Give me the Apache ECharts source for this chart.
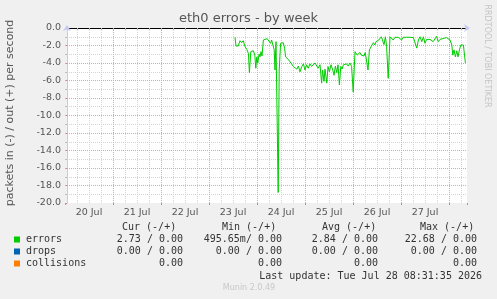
<!DOCTYPE html>
<html><head><meta charset="utf-8">
<script src="https://cdn.jsdelivr.net/npm/echarts@6/dist/echarts.min.js"></script>
<style>html,body{margin:0;padding:0;background:#f0f0f0;overflow:hidden}#c{width:497px;height:299px}</style>
</head><body><div id="c"></div>
<script>
// ---- data ----
const title = 'eth0 errors - by week';
const yAxisTitle = 'packets in (-) / out (+) per second';
const sideText = 'RRDTOOL / TOBI OETIKER';
const dayLabels = ['20 Jul', '21 Jul', '22 Jul', '23 Jul', '24 Jul', '25 Jul', '26 Jul', '27 Jul'];
const yMajorTicks = [-2, -4, -6, -8, -10, -12, -14, -16, -18];
// hours since 20 Jul 00:00
const hours = [85.0,85.5,86.6,87.5,88.3,89.1,90.0,90.9,91.7,92.2,92.9,93.5,94.2,94.9,95.4,95.9,96.4,97.0,97.5,98.0,98.5,99.2,100.0,101.1,102.1,102.8,103.3,104.1,104.6,105.0,105.5,106.1,106.6,107.1,107.8,108.5,109.1,109.8,110.3,110.9,111.7,112.5,113.4,114.2,115.0,115.9,116.7,117.5,118.4,119.2,120.0,120.8,121.6,122.5,123.3,124.1,125.0,125.8,126.6,127.5,128.3,128.8,129.5,130.0,130.9,131.5,132.2,133.0,133.9,134.5,135.2,135.9,136.5,137.2,137.9,138.5,139.2,140.0,140.8,141.6,142.5,143.3,144.1,145.0,145.5,146.1,146.8,147.5,148.1,148.8,149.5,150.1,150.9,151.5,152.2,152.9,153.5,154.2,154.9,155.5,156.2,156.9,157.5,158.2,158.9,159.5,160.2,160.8,161.6,162.5,163.3,164.1,165.0,165.8,166.6,167.5,168.3,169.1,170.0,170.9,171.7,172.5,173.4,174.2,175.0,175.9,176.7,177.5,178.4,179.2,180.0,180.8,181.6,182.5,183.3,184.1,185.0,185.8,186.6,187.5,188.3,189.1,190.0,190.8,191.7,192.5,193.4,193.9,194.5,195.2,195.9,196.5,197.2,197.9,198.5,199.2,199.7,200.2];
// errors received (in), packets/s — plotted below zero
const errorsIn = [1.07,2.06,2.06,1.45,1.68,1.45,2.13,2.44,2.9,5.1,2.7,2.9,2.6,3.1,4.6,3.3,4.0,3.0,3.3,2.7,3.2,1.37,1.18,1.22,1.37,1.75,1.37,1.45,2.5,4.8,1.56,1.75,18.8,4.8,1.75,1.83,1.68,2.3,3.3,3.5,3.6,3.85,3.7,4.4,4.2,4.7,4.35,5.0,4.4,4.1,4.8,4.2,4.6,4.1,4.4,4.35,4.0,4.2,4.6,4.2,6.3,4.8,6.1,4.7,6.3,4.4,5.0,4.2,4.8,5.4,4.35,5.1,4.2,6.5,4.4,4.7,4.2,4.4,4.1,4.35,4.0,4.4,7.3,2.7,2.6,3.1,3.3,2.8,3.1,2.9,3.2,2.8,3.0,4.8,2.5,2.5,1.94,1.68,1.94,1.56,1.75,1.37,1.3,1.0,0.95,1.9,1.0,2.1,5.75,1.0,1.0,1.37,1.06,1.1,1.06,1.0,1.37,1.06,1.0,1.06,0.95,1.06,1.0,1.1,1.06,2.3,1.37,1.0,1.56,1.0,1.75,1.3,1.35,1.3,1.2,1.56,1.45,0.95,1.56,1.3,1.37,1.2,1.3,1.1,1.0,1.37,1.94,3.1,2.5,3.3,2.6,3.3,2.5,1.94,1.8,1.94,2.1,4.0];
const legendNames = ['errors', 'drops', 'collisions'];
const legendColors = ['#00cc00', '#0066b3', '#ff8000'];
const colHeaders = ['Cur (-/+)', 'Min (-/+)', 'Avg (-/+)', 'Max (-/+)'];
const curVals = ['2.73 / 0.00', '0.00 / 0.00', '0.00'];
const minVals = ['495.65m/ 0.00', '0.00 / 0.00', '0.00'];
const avgVals = ['2.84 / 0.00', '0.00 / 0.00', '0.00'];
const maxVals = ['22.68 / 0.00', '0.00 / 0.00', '0.00'];
const lastUpdate = 'Last update: Tue Jul 28 08:31:35 2026';
const footer = 'Munin 2.0.49';

// ---- chart ----
const chart = echarts.init(document.getElementById('c'), null, {renderer: 'canvas'});
const SANS = 'DejaVu Sans';
const MONO = 'DejaVu Sans Mono';
const minorC = '#d4d4d4', majorC = '#e8a0a0', axisC = '#c8c8f4', txtC = '#555';
const dot = [1, 1];
const seriesData = hours.map((h, i) => [h, -errorsIn[i]]);
const X_MAX = 201;
const midnights = dayLabels.map((_, i) => 24 * (i + 1));
const majorLines = midnights.map(h => ({xAxis: h})).concat(yMajorTicks.map(v => ({yAxis: v})));

const graphics = [];
graphics.push({type: 'text', x: 248.5, y: 19, style: {text: title, font: '13px ' + SANS, fill: '#555', textAlign: 'center', textVerticalAlign: 'middle'}});
graphics.push({type: 'text', x: 10, y: 113, rotation: Math.PI / 2, style: {text: yAxisTitle, font: '11px ' + SANS, fill: '#555', textAlign: 'center', textVerticalAlign: 'middle'}});
graphics.push({type: 'text', x: 487, y: 56, rotation: -Math.PI / 2, style: {text: sideText, font: '8px ' + SANS, fill: '#c4c4c4', textAlign: 'center', textVerticalAlign: 'middle'}});
const headerX = [122, 222, 322, 420];
colHeaders.forEach((t, i) => graphics.push({type: 'text', x: headerX[i], y: 227, style: {text: t, font: '10px ' + MONO, fill: '#333', textAlign: 'left', textVerticalAlign: 'middle'}}));
const rowY = [239.5, 251.5, 263.5];
const colRight = [183, 282, 378, 477];
const cols = [curVals, minVals, avgVals, maxVals];
legendNames.forEach((n, r) => {
  graphics.push({type: 'rect', shape: {x: 14, y: rowY[r] - 3, width: 6, height: 6}, style: {fill: legendColors[r]}});
  graphics.push({type: 'text', x: 26, y: rowY[r], style: {text: n, font: '10px ' + MONO, fill: '#333', textAlign: 'left', textVerticalAlign: 'middle'}});
  cols.forEach((c, k) => graphics.push({type: 'text', x: colRight[k], y: rowY[r], style: {text: c[r], font: '10px ' + MONO, fill: '#333', textAlign: 'right', textVerticalAlign: 'middle'}}));
});
graphics.push({type: 'text', x: 482, y: 276, style: {text: lastUpdate, font: '10px ' + MONO, fill: '#333', textAlign: 'right', textVerticalAlign: 'middle'}});
graphics.push({type: 'text', x: 249, y: 288, style: {text: footer, font: '8px ' + SANS, fill: '#c8c8c8', textAlign: 'center', textVerticalAlign: 'middle'}});

const noAxis = {axisLine: {show: false}, axisTick: {show: false}, axisLabel: {show: false}, splitLine: {show: false}};

chart.setOption({
  animation: false,
  backgroundColor: '#f0f0f0',
  grid: [
    {left: 67, right: 30, top: 28, bottom: 96, show: true, backgroundColor: '#ffffff', borderWidth: 0},
    {left: 65, right: 30, top: 28, bottom: 96}
  ],
  xAxis: [
    {gridIndex: 1, type: 'value', position: 'bottom', min: 0, max: X_MAX, interval: 6,
     axisLine: {show: false}, axisLabel: {show: false},
     axisTick: {show: true, length: 2, lineStyle: {color: '#bbbbbb'}},
     splitLine: {show: true, showMinLine: false, showMaxLine: false, lineStyle: {color: minorC, type: dot, width: 1}}},
    {gridIndex: 1, type: 'value', position: 'bottom', min: 0, max: X_MAX, interval: 24,
     axisLine: {show: false}, axisLabel: {show: false}, splitLine: {show: false},
     axisTick: {show: true, length: 2, lineStyle: {color: '#e08080'}}},
    {gridIndex: 1, type: 'value', position: 'bottom', min: 0, max: X_MAX, interval: 12,
     axisLine: {show: false}, axisTick: {show: false}, splitLine: {show: false},
     axisLabel: {show: true, margin: 5, color: txtC, fontFamily: SANS, fontSize: 9.5, showMinLabel: false, showMaxLabel: false,
       formatter: v => (v % 24 === 12 ? dayLabels[(v - 12) / 24] || '' : '')}},
    Object.assign({gridIndex: 0, type: 'value', position: 'bottom', min: 0, max: 1}, noAxis,
      {axisLine: {show: true, symbol: ['none', 'arrow'], symbolSize: [6, 6], symbolOffset: [0, 3], lineStyle: {color: axisC, width: 1}}}),
    Object.assign({gridIndex: 0, type: 'value', position: 'top', min: 0, max: 1}, noAxis,
      {axisLine: {show: true, symbol: 'none', lineStyle: {color: '#000', width: 1}}})
  ],
  yAxis: [
    {gridIndex: 0, type: 'value', position: 'left', min: -20, max: 0, interval: 1,
     axisLine: {show: false}, axisLabel: {show: false},
     axisTick: {show: true, length: 2, lineStyle: {color: '#bbbbbb'}},
     splitLine: {show: true, showMinLine: false, showMaxLine: false, lineStyle: {color: minorC, type: dot, width: 1}}},
    {gridIndex: 0, type: 'value', position: 'left', min: -20, max: 0, interval: 2,
     axisLine: {show: true, symbol: ['none', 'arrow'], symbolSize: [6, 6], symbolOffset: [0, 3], lineStyle: {color: axisC, width: 1}},
     axisTick: {show: true, length: 2, lineStyle: {color: '#e08080'}},
     axisLabel: {show: true, margin: 6, color: txtC, fontFamily: SANS, fontSize: 9.5, formatter: v => v.toFixed(1)},
     splitLine: {show: false}},
    Object.assign({gridIndex: 1, type: 'value', position: 'left', min: -20, max: 0}, noAxis)
  ],
  series: [
    {name: 'errors', type: 'line', xAxisIndex: 2, yAxisIndex: 2, data: seriesData, showSymbol: false, symbol: 'none',
     lineStyle: {color: legendColors[0], width: 1}, z: 5, silent: true,
     markLine: {silent: true, symbol: ['none', 'none'], label: {show: false}, animation: false, z: 1,
       lineStyle: {color: majorC, type: dot, width: 1}, emphasis: {disabled: true},
       data: majorLines}}
  ],
  graphic: graphics
});
</script>
</body></html>
